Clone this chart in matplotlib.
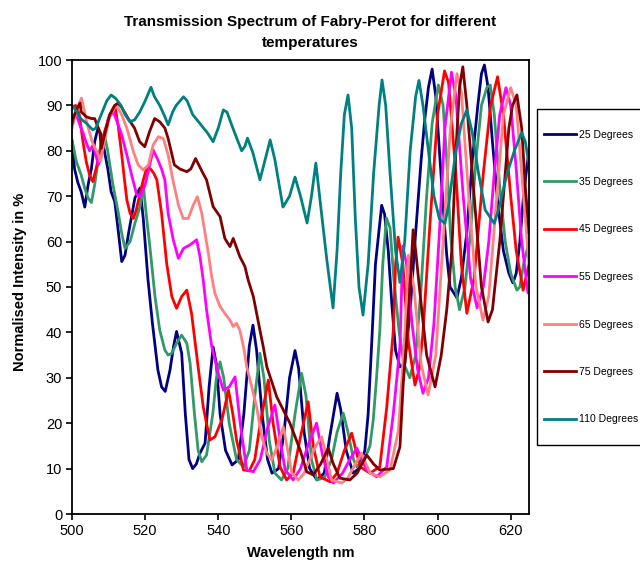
import matplotlib
matplotlib.use('Agg')
import matplotlib.pyplot as plt
from matplotlib.patches import Rectangle

plt.rcParams['font.family'] = ['Liberation Sans', 'DejaVu Sans']

labels = ['25 Degrees', '35 Degrees', '45 Degrees', '55 Degrees',
          '65 Degrees', '75 Degrees', '110 Degrees']
colors = ['#000080', '#339966', '#FF0000', '#FF00FF', '#FF8080', '#800000', '#008080']

# (wavelength nm, normalised intensity %)
deg25 = [(500,82),(500.7,76),(501.6,73),(502.5,71),(503.5,67.6),(504.4,72.5),(505.3,76),(506.2,82),
         (507.1,85),(508,83.5),(508.9,79.8),(509.8,76),(510.7,71),(511.7,68.8),(512.7,62),(513.6,55.6),
         (514.5,57),(515.5,62),(516.4,66),(517.2,69.6),(518.6,71.8),(519.5,65),(520.8,51.5),(522,42),
         (523.5,31.7),(524.5,28),(525.5,27),(526.8,31.7),(527.8,37),(528.6,40.2),(530,35.4),(531,22),
         (532,12),(533,10),(534,11),(535,13.4),(536.4,15.6),(537.5,28),(538.6,36.8),(539.5,33),(540.5,22),
         (542,14),(543.8,10.8),(545.5,12),(547,22),(548.5,37),(549.5,41.6),(550.5,36),(552,22),(553.5,12),
         (554.7,9),(556.5,10),(558,18),(559.5,30),(561,36),(562,32),(563.5,18),(565,10),(567,7.5),(569,9),
         (570.5,17),(572.5,26.6),(573.5,23),(575,14),(576.9,9),(578.5,10),(580.1,14),(581,22),(582,38),
         (583,55),(584.7,68),(585.5,66),(586.5,58),(587.5,46),(588.5,36),(589.7,32.4),(591,33),(592.5,45),
         (594,62),(595.5,78),(596.5,87),(597.5,94),(598.5,98),(599.5,92),(600.5,80),(601.5,68),(602.5,57),
         (603.4,50),(605.3,47.6),(606.5,52),(608,62),(609.5,78),(611,90),(612,97),(612.8,98.9),(613.8,94),
         (615,82),(616.5,68),(618,58),(619.5,53),(620.6,50.9),(621.5,53),(622.5,60),(623.5,70),(624.5,77),
         (625,80)]

deg35 = [(500,82.4),(501.2,77.6),(502.5,74.7),(503.5,71.7),(504.4,69.6),(505.3,68.6),(506.2,72.5),(507,77),
         (508,82),(509,83),(509.8,79.8),(511.2,72.5),(512.7,66.2),(513.6,61.8),(514.5,58.5),(515.9,60),
         (517.2,64),(518.6,67.7),(519.5,72.5),(520.3,66),(521.3,58.9),(522.7,47.9),(524,40.5),(525.4,36.1),
         (526.3,35),(527.3,35.4),(528.6,37.6),(530,39.4),(531.4,37.6),(532.3,33.2),(533.5,22),(534.5,14),
         (535.5,11.5),(536.8,13),(538.5,22),(539.5,30),(540.5,33.5),(541.5,30),(543,20),(545,12),(546.9,10.4),
         (548.5,14),(550,26),(551.4,35.4),(552.5,30),(554,16),(555.5,9),(557.3,7.5),(559,10),(561,22),
         (562.8,31),(564,26),(565.5,12),(567,7.5),(569,8),(571,12),(572.5,18),(574.2,22.2),(575.5,18),
         (577,12),(577.9,10.4),(580,12),(581.5,15),(582.4,20.7),(583.3,30),(584.2,40.5),(585,55),(586,65.2),
         (587,63),(588,52),(589.5,40),(590.8,33),(592.4,30),(594,35),(595.5,50),(597,70),(598.5,86),
         (600.2,94.5),(601.5,90),(602.5,78),(603.5,62),(604.8,50),(606,45),(607.5,50),(609,62),(610.5,78),
         (612,90),(613.5,94),(614.4,94.5),(615.5,88),(617,72),(618.5,60),(620,53),(621.7,49.3),(622.5,50),
         (623.5,55),(625,60)]

deg45 = [(500,89.5),(501,90),(502,88),(503,82),(503.9,77.6),(504.8,74.7),(505.7,73.2),(506.6,76.1),
         (507.6,79.8),(508.9,84.2),(510.3,87.9),(511.7,90),(512.6,85.7),(513.5,79.8),(514.3,74),(515,69.2),
         (515.9,66.2),(516.8,65.1),(517.6,67),(518.6,70.6),(519.5,73.6),(520.4,76.1),(521.5,76),(522.4,75),
         (523.2,73.6),(524.5,66.2),(525.9,55.2),(527.3,47.9),(528.6,45.3),(530,47.9),(531.4,49.3),
         (532.7,44.2),(533.6,38.3),(534.5,32.4),(535.9,23.6),(537.7,16.3),(539.1,17),(541,20.7),(542.8,27.3),
         (544,22),(545,16.3),(546.9,9.7),(548.5,9.5),(550,12),(551.5,20),(553.7,29.5),(555,20),(556.9,10.4),
         (558.7,7.5),(560.5,9),(562.5,17),(564.6,24.7),(566,15),(567.8,8.2),(570.6,7.1),(572.5,9),(574.5,14),
         (576.5,17.8),(578.8,10.4),(581.5,9),(584.2,10.4),(586.1,23.6),(587.9,40.5),(588.5,55),(589.2,61),
         (590.5,55),(592,38),(593.8,28.4),(595,32),(596,40),(598,65),(600,88),(601.9,97.6),(603,95),(605,75),
         (606.5,55),(608,44.2),(610,52),(612.5,75),(614.5,90),(616.4,96.3),(618,88),(620,70),(621.5,58),
         (623.4,49.3),(625,55)]

deg55 = [(500,87),(501,88.5),(502,86),(503,84),(503.8,82),(504.8,80),(505.8,81.3),(507.2,76.9),(508.1,79.1),
         (509,83),(509.9,87.1),(511.3,88.6),(512.5,86),(513.6,83.5),(515,79.1),(516.3,74.7),(517.7,70.3),
         (518.6,69.9),(520,72.5),(521,76),(522.2,80.2),(523.5,78),(524.5,76),(525.4,73.6),(526.3,66.2),
         (527.7,60.4),(529.1,56.3),(530.5,58.5),(532.3,59.3),(534.1,60.4),(535,56.7),(535.9,51.5),(536.8,45),
         (538.2,37),(539.1,34),(540,31),(541.4,27.3),(543,28),(544.6,30.2),(546,20),(547.8,9.7),(549.6,9.3),
         (551.5,12),(553.5,19),(555.5,24),(557,16),(558.3,9.7),(560.5,7.5),(562.5,10),(564.5,15),(566.9,20),
         (568.5,13),(570.1,8.2),(571.5,6.8),(574,9),(576,12),(577.9,14.5),(580.6,9.7),(583.3,8.2),(586.1,10.4),
         (587.9,22.2),(589.7,36.9),(590.5,59),(591.5,55),(593,42),(594.5,32),(596,26.6),(597.5,30),(599,42),
         (600.5,62),(602,85),(603.8,97.3),(605,92),(607,70),(609,52),(610.8,45.4),(612.5,50),(614,60),
         (615.5,75),(617,88),(618.7,93.9),(620,90),(621.5,76),(623,60),(624.7,48.7),(625,49)]

deg65 = [(500,85),(501,88),(502,90.5),(502.6,91.6),(503.3,89),(504,86.4),(505.5,82),(507.2,79.1),(507.7,77.6),
         (509,82.7),(510.4,87.9),(512.2,90.1),(513.6,87.9),(515,85),(516.8,79.8),(518.1,76.9),(519.5,75.8),
         (520.9,76.9),(522.2,81.3),(523.6,83.1),(525,82.7),(526.3,79.1),(527.7,73.2),(529.1,68.1),(530.4,65.1),
         (531.8,65.1),(533.2,68.1),(534.3,69.9),(535.5,66.2),(536.4,61.8),(537.3,57.4),(538.2,52.3),
         (539.1,48.6),(540.5,45.7),(541.8,44.2),(543.2,42.7),(544.1,41.3),(545,42),(545.9,40.5),(546.9,36.9),
         (547.8,32.4),(548.7,29.5),(550.5,23.6),(551.9,17),(553.3,13.4),(554.6,11.9),(556.2,15),(557.8,19.2),
         (559,14),(560.1,9),(561.9,7.5),(563.5,9),(565,12),(566.7,15),(568.3,17),(569.7,12),(571,7.5),
         (573.8,6.8),(575.5,8),(577.5,11),(579.2,13.4),(581.5,9),(584.2,8.2),(587,9.7),(589.3,18.5),
         (590.2,29.5),(591.1,40.5),(592,57),(593.5,50),(595.5,33),(597.4,26.2),(599.5,35),(601.5,60),
         (603.5,85),(605.3,97),(606.5,93),(608.5,70),(610.5,50),(612.4,42.7),(614,48),(616,68),(618,88),
         (620,93.9),(621.5,90),(623,75),(625,55)]

deg75 = [(500,86),(500.3,87),(501.2,89),(502.2,90.5),(502.5,88.6),(503.9,87.5),(505.3,87.1),(506.2,87.1),
         (507.6,84.2),(508,80.5),(508.9,83.5),(510.3,87.9),(511.7,90),(512.6,90.5),(513.5,89.7),(515.3,87.2),
         (517.1,85),(518.5,82),(519.9,80.9),(521.2,84.2),(522.6,87.1),(524,86.4),(525.4,85),(526.3,82.7),
         (528,76.9),(529.5,76),(531.4,75.4),(532.5,76),(533.8,78.3),(535.6,75.4),(536.8,73.6),(538.6,67.7),
         (540.5,65.5),(541.8,60.7),(543.2,58.9),(544.1,60.7),(545.9,56.7),(547.3,54.5),(548.2,51.5),
         (549.6,47.9),(550.5,44.2),(551.4,40.5),(552.3,36.9),(553.3,32.4),(556,25.8),(559.6,20),(562.4,14.1),
         (564.2,9.3),(566,8.6),(568,11),(570.1,14.5),(571.5,11),(573.3,7.9),(576,7.5),(578,9),(580.6,13),
         (582.5,11),(584.2,9.7),(587.9,10),(589.7,14.8),(590.6,28.8),(591.5,38),(592,44.2),(592.5,50.8),
         (593.3,62.6),(594,58),(595,50),(597,35),(599.3,28),(601,35),(602.5,45),(603.9,58),(605,80),(606,94),
         (606.9,98.5),(608,90),(610,70),(612,50),(613.8,42.3),(615,45),(617,60),(619.5,85),(620.5,90),
         (621.7,92.3),(623,85),(624,72),(625,62)]

deg110 = [(500,90),(501,89),(502.5,87),(504,86),(505.7,84.6),(506.5,85),(508,88),(509.5,91),(510.7,92.3),
          (512,91.5),(513.4,90),(514.5,88),(515.8,86.4),(517.1,86.8),(518.5,88.5),(519.9,90.8),(521.6,94),
          (522.5,92),(524,90),(525.4,87.5),(526.3,85.7),(527.5,88.5),(528.5,90),(530.5,91.9),(531.5,91),
          (533,88),(535,86),(537,84),(538.6,82),(540,85),(541.4,89),(542.4,88.5),(544,85),(546.4,80),
          (547.3,81),(548,82.8),(549.5,79.5),(551.4,73.6),(552.5,77),(554.2,82.4),(555.5,78),(557.7,67.6),
          (559.5,70),(561,74.2),(562.5,70),(564.3,64.1),(565.5,70),(566.7,77.3),(568,68),(569.7,56),
          (571.4,45.4),(572.5,58),(573.5,75),(574.5,88),(575.5,92.3),(576.5,85),(577.5,65),(578.5,50),
          (579.6,43.8),(581,55),(582.5,75),(584,90),(584.8,95.6),(585.8,90),(587,75),(588.5,58),(589.7,51),
          (591,60),(592.5,80),(594,92),(594.9,95.5),(596,90),(597.5,80),(599,70),(600.5,65),(602,64),
          (603,68),(605,80),(606.5,86),(608,89),(609.5,84),(611,76),(613,67),(615.5,64),(617,68),(619,75),
          (621,80),(623,84),(624,82),(625,77)]

series = [deg25, deg35, deg45, deg55, deg65, deg75, deg110]

W, H = 640, 562
fig = plt.figure(figsize=(W/100, H/100), dpi=100)
ax = fig.add_axes([72/W, 1-514/H, (529-72)/W, (514-60)/H])
for data, lab, c in zip(series, labels, colors):
    x, y = zip(*data)
    ax.plot(x, y, color=c, lw=2.0, label=lab, solid_joinstyle='round')

ax.set_xlim(500, 625)
ax.set_ylim(0, 100)
ax.set_xticks(range(500, 621, 20))
ax.set_yticks(range(0, 101, 10))
ax.tick_params(direction='out', length=4, width=1.2, labelsize=10.5, pad=3)
for s in ax.spines.values():
    s.set_linewidth(1.3)
ax.set_xlabel('Wavelength nm', fontweight='bold', fontsize=10.5, labelpad=6)
ax.set_ylabel('Normalised Intensity in %', fontweight='bold', fontsize=10.5)
ax.yaxis.set_label_coords(-(72-27)/(529-72), (514-282)/(514-60))
fig.text(310/W, 1-15/H, 'Transmission Spectrum of Fabry-Perot for different\ntemperatures',
         ha='center', va='top', fontweight='bold', fontsize=11, linespacing=1.6)

# legend box (extends past the right edge, as in the reference)
box = Rectangle((537/W, 1-445/H), (660-537)/W, (445-109)/H, transform=fig.transFigure,
                facecolor='white', edgecolor='black', lw=1.0, zorder=1)
fig.add_artist(box)
handles, labs = ax.get_legend_handles_labels()
leg = fig.legend(handles, labs, loc='upper left', bbox_to_anchor=(544/W, 1-129.5/H), fontsize=7.5,
                 handlelength=3.1, labelspacing=3.6, borderpad=0, frameon=False,
                 handletextpad=0.3, borderaxespad=0)
leg.set_zorder(3)

fig.savefig('out.png', dpi=100)
